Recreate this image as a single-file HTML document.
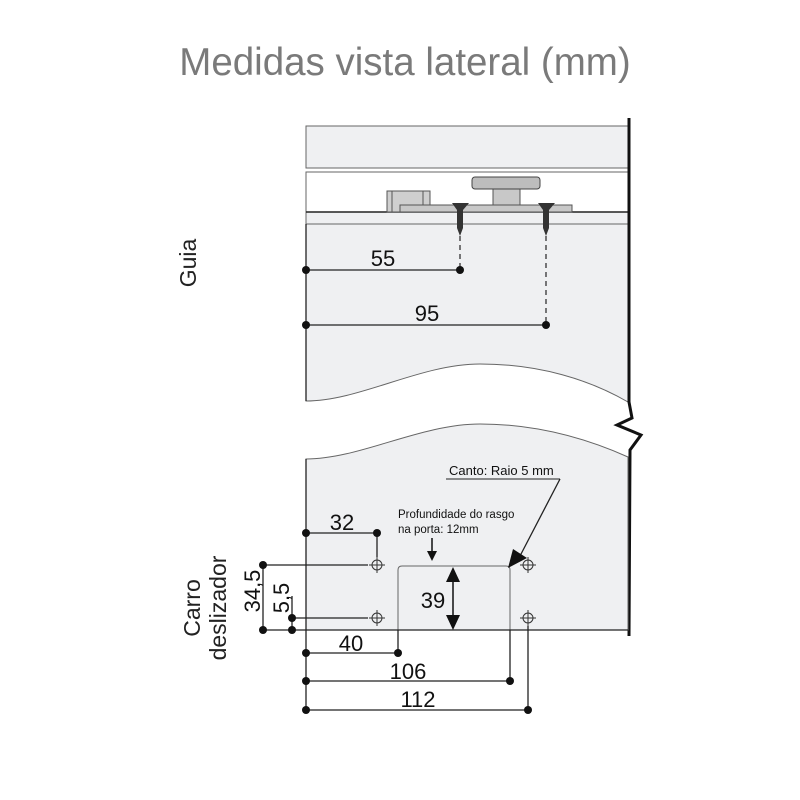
<!DOCTYPE html>
<html><head><meta charset="utf-8"><style>
html,body{margin:0;padding:0;background:#fff;}
svg{display:block;}
text{font-family:"Liberation Sans",Arial,sans-serif;}
</style></head><body>
<svg width="800" height="800" viewBox="0 0 800 800" xmlns="http://www.w3.org/2000/svg">
<text x="405" y="75" font-size="38.5" fill="#7a7a7a" text-anchor="middle">Medidas vista lateral (mm)</text>

<!-- top panel -->
<rect x="306" y="126" width="322" height="42" fill="#eff0f2" stroke="#666" stroke-width="1"/>
<rect x="306" y="172" width="322" height="40" fill="#fff" stroke="#666" stroke-width="1"/>
<path d="M306 212 L628 212 L628 402 C590 380 540 364 480 364 C420 364 360 401 306 401 Z" fill="#eff0f2" stroke="#666" stroke-width="1"/>
<line x1="306" y1="212" x2="628" y2="212" stroke="#222" stroke-width="1.5"/>
<line x1="306" y1="224" x2="628" y2="224" stroke="#666" stroke-width="1"/>
<!-- hardware -->
<rect x="387" y="191" width="43" height="21" fill="#cfcfcf" stroke="#555"/>
<line x1="392" y1="191" x2="392" y2="212" stroke="#555"/>
<line x1="423" y1="191" x2="423" y2="212" stroke="#555"/>
<rect x="400" y="205" width="172" height="7" fill="#c8c8c8" stroke="#555"/>
<rect x="493" y="189" width="27" height="16" fill="#c8c8c8" stroke="#555"/>
<rect x="472" y="177" width="68" height="12" rx="3" fill="#bdbdbd" stroke="#444"/>
<!-- screws -->
<path d="M452 203 L469 203 L463 210 L463 228 L460 236 L457 228 L457 210 Z" fill="#333"/>
<path d="M538 203 L555 203 L549 210 L549 228 L546 236 L543 228 L543 210 Z" fill="#333"/>
<line x1="460" y1="236" x2="460" y2="270" stroke="#333" stroke-width="1.3" stroke-dasharray="5,4"/>
<line x1="546" y1="236" x2="546" y2="325" stroke="#333" stroke-width="1.3" stroke-dasharray="5,4"/>
<!-- right edge & break -->
<polyline points="629,118 629,402 632,418 617,425 641,435 630,450 629,636" fill="none" stroke="#111" stroke-width="3"/>

<!-- dims top -->
<g stroke="#222" stroke-width="1.3">
<line x1="306" y1="224" x2="306" y2="401"/>
<line x1="306" y1="270" x2="460" y2="270"/>
<line x1="306" y1="325" x2="546" y2="325"/>
</g>
<g fill="#111">
<circle cx="306" cy="270" r="4"/><circle cx="460" cy="270" r="4"/>
<circle cx="306" cy="325" r="4"/><circle cx="546" cy="325" r="4"/>
</g>
<text x="383" y="266" font-size="22" fill="#111" text-anchor="middle">55</text>
<text x="427" y="321" font-size="22" fill="#111" text-anchor="middle">95</text>
<text transform="translate(196,263) rotate(-90)" font-size="23" fill="#222" text-anchor="middle">Guia</text>

<!-- bottom panel -->
<path d="M306 459 C360 459 420 424 480 424 C540 424 590 440 628 457 L628 630 L306 630 Z" fill="#eff0f2" stroke="#666" stroke-width="1"/>
<!-- cutout -->
<path d="M398 630 L398 570 Q398 566 402 566 L506 566 Q510 566 510 570 L510 630" fill="#eff0f2" stroke="#666" stroke-width="1"/>

<text x="449" y="475" font-size="13" fill="#111">Canto: Raio 5 mm</text>
<line x1="446" y1="479" x2="560" y2="479" stroke="#222" stroke-width="1"/>
<line x1="560" y1="479" x2="520" y2="556" stroke="#222" stroke-width="1.3"/>
<path d="M508 568 L513 549 L527 558 Z" fill="#111"/>
<text x="398" y="518" font-size="11.5" fill="#111">Profundidade do rasgo</text>
<text x="398" y="533" font-size="11.5" fill="#111">na porta: 12mm</text>
<line x1="432" y1="538" x2="432" y2="552" stroke="#111" stroke-width="1.5"/>
<path d="M427 551 L437 551 L432 561 Z" fill="#111"/>
<!-- 39 arrow -->
<line x1="453" y1="580" x2="453" y2="616" stroke="#111" stroke-width="1.5"/>
<path d="M446 582 L453 567 L460 582 Z M446 615 L453 630 L460 615 Z" fill="#111"/>
<text x="433" y="608" font-size="22" fill="#111" text-anchor="middle">39</text>

<!-- holes -->
<g stroke="#333" stroke-width="1" fill="none">
<circle cx="377" cy="565" r="5"/><line x1="369" y1="565" x2="385" y2="565"/><line x1="377" y1="557" x2="377" y2="573"/>
<circle cx="377" cy="618" r="5"/><line x1="369" y1="618" x2="385" y2="618"/><line x1="377" y1="610" x2="377" y2="626"/>
<circle cx="528" cy="565" r="5"/><line x1="520" y1="565" x2="536" y2="565"/><line x1="528" y1="557" x2="528" y2="573"/>
<circle cx="528" cy="618" r="5"/><line x1="520" y1="618" x2="536" y2="618"/><line x1="528" y1="610" x2="528" y2="626"/>
</g>

<!-- dims bottom -->
<g stroke="#222" stroke-width="1.3" fill="none">
<line x1="306" y1="459" x2="306" y2="710"/>
<line x1="306" y1="533" x2="377" y2="533"/>
<line x1="377" y1="533" x2="377" y2="557"/>
<line x1="263" y1="565" x2="368" y2="565"/>
<line x1="263" y1="630" x2="628" y2="630"/>
<line x1="263" y1="565" x2="263" y2="630"/>
<line x1="292" y1="618" x2="368" y2="618"/>
<line x1="292" y1="596" x2="292" y2="630"/>
<line x1="306" y1="653" x2="398" y2="653"/>
<line x1="398" y1="630" x2="398" y2="653"/>
<line x1="306" y1="681" x2="510" y2="681"/>
<line x1="510" y1="630" x2="510" y2="681"/>
<line x1="306" y1="710" x2="528" y2="710"/>
<line x1="528" y1="626" x2="528" y2="710"/>
</g>
<g fill="#111">
<circle cx="306" cy="533" r="4"/><circle cx="377" cy="533" r="4"/>
<circle cx="263" cy="565" r="4"/><circle cx="263" cy="630" r="4"/>
<circle cx="292" cy="618" r="4"/><circle cx="292" cy="630" r="4"/>
<circle cx="306" cy="653" r="4"/><circle cx="398" cy="653" r="4"/>
<circle cx="306" cy="681" r="4"/><circle cx="510" cy="681" r="4"/>
<circle cx="306" cy="710" r="4"/><circle cx="528" cy="710" r="4"/>
</g>
<text x="342" y="530" font-size="22" fill="#111" text-anchor="middle">32</text>
<text x="351" y="651" font-size="22" fill="#111" text-anchor="middle">40</text>
<text x="408" y="679" font-size="22" fill="#111" text-anchor="middle">106</text>
<text x="418" y="707" font-size="22" fill="#111" text-anchor="middle">112</text>
<text transform="translate(260,591) rotate(-90)" font-size="22" fill="#111" text-anchor="middle">34,5</text>
<text transform="translate(289,598) rotate(-90)" font-size="22" fill="#111" text-anchor="middle">5,5</text>
<text transform="translate(200,608) rotate(-90)" font-size="23" fill="#222" text-anchor="middle">Carro</text>
<text transform="translate(226,608) rotate(-90)" font-size="23" fill="#222" text-anchor="middle">deslizador</text>
</svg>
</body></html>
